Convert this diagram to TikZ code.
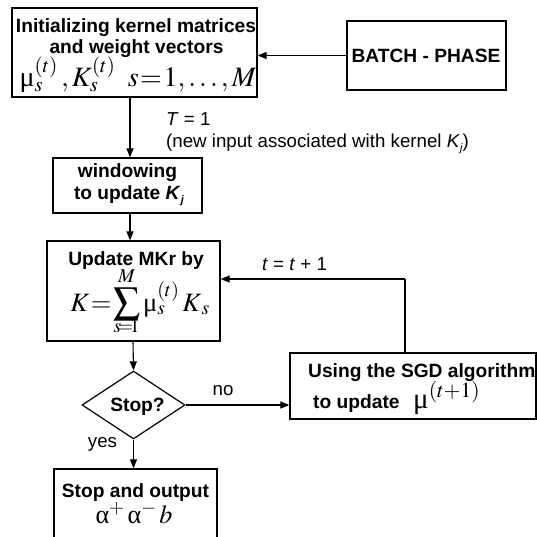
\documentclass[tikz,border=0pt]{standalone}
\usepackage{amsmath}
\usepackage{mathptmx}
\usepackage{fontspec}
\setmainfont{Liberation Sans}
\newfontfamily\serifup{Liberation Serif}
\usetikzlibrary{arrows.meta,shapes.geometric}

% upright Greek letters in the formulas
\newcommand\gmu{\text{\serifup μ}}
\newcommand\galpha{\text{\serifup α}}
% tight equals sign
\newcommand\teq{\mathrel{\mkern-3mu=\mkern-3mu}}

\tikzset{
  box/.style={draw, line width=1.2pt, inner sep=0pt, rectangle},
  arr/.style={line width=1.1pt, -{Triangle[length=9pt,width=7pt]}},
  conn/.style={line width=1.1pt},
  bold/.style={inner sep=0pt, anchor=base, font=\fontsize{19.2}{22}\selectfont\bfseries},
  plain/.style={inner sep=0pt, anchor=base, font=\fontsize{18.7}{22}\selectfont},
  formula/.style={inner sep=0pt, anchor=base, font=\fontsize{#1}{#1}\selectfont},
}

\begin{document}
\begin{tikzpicture}[x=1pt,y=-1pt]
\useasboundingbox (0,0) rectangle (537,537);
\clip (0,0) rectangle (537,537);

% boxes
\node[box, minimum width=245pt, minimum height=89pt] (init) at (134.5,52.5) {};
\node[box, minimum width=159pt, minimum height=69pt] (batch) at (426.5,55.5) {};
\node[box, minimum width=149pt, minimum height=55pt] (window) at (127.5,185.5) {};
\node[box, minimum width=173pt, minimum height=100pt] (mkr) at (133.5,291) {};
\node[draw, line width=1.2pt, diamond, inner sep=0pt, shape aspect=1.515,
      minimum width=103pt, minimum height=68pt] (stop) at (133.5,405) {};
\node[box, minimum width=246pt, minimum height=66pt] (sgd) at (413,386) {};
\node[box, minimum width=163pt, minimum height=80pt] (out) at (135.5,509) {};

% texts
\node[bold] (init1) at (136,33) {Initializing kernel matrices};
\node[bold] (init2) at (136.5,53.3) {and weight vectors};
\node[formula=28] (init3) at (138,87) {$\gmu_s^{(t)}\,, K_s^{(t)}\;\; s\teq 1,\ldots,M$};

\node[bold] (batchtxt) at (426,63) {BATCH - PHASE};

\node[plain, anchor=base west] (tlab) at (166,126) {\textit{T} = 1};
\node[plain, anchor=base west] (newlab) at (166,148) {(new input associated with kernel \textit{K}\raisebox{-0.35ex}{\fontsize{11}{11}\selectfont\textit{j}})};

\node[bold] (win1) at (127.5,178) {windowing};
\node[bold] (win2) at (129,200) {to update \textit{K}\raisebox{-0.35ex}{\fontsize{11}{11}\selectfont\textit{j}}};

\node[bold] (mkr1) at (136,265) {Update MKr by};
\node[formula=26.5] (mkr2) at (140,311) {$\displaystyle K\teq\sum_{\smash{\raisebox{4pt}{$\scriptstyle s\teq 1$}}}^{M}\gmu_s^{(t)}\, K_{\,s}$};

\node[plain, anchor=base west] (tinc) at (262,270) {\textit{t} = \textit{t} + 1};

\node[bold] (stoptxt) at (137.5,411) {Stop?};
\node[plain] (no) at (223,395) {no};
\node[plain] (yes) at (102.5,447) {yes};

\node[bold, anchor=base west] (sgd1) at (308,377) {Using the SGD algorithm};
\node[bold, anchor=base west] (sgd2) at (313,408) {to update};
\node[formula=29, anchor=base west] (sgd3) at (413,408) {$\gmu^{(t+1)}$};

\node[bold] (out1) at (135.5,497) {Stop and output};
\node[formula=26] (out2) at (134,523) {$\galpha^{+}\,\galpha^{-}\,b$};

% connectors
\coordinate (xa) at (130,0);
\coordinate (xb) at (133,0);
\coordinate (xs) at (405,0);
\coordinate (yf) at (0,279);

\draw[arr] (batch.west) -- (batch.west -| init.east);
\draw[arr] (init.south -| xa) -- (window.north -| xa);
\draw[arr] (window.south -| xa) -- (mkr.north -| xa);
\draw[arr] (mkr.south -| xb) -- (stop.north);
\draw[arr] (stop.south) -- (out.north -| stop.south);
\draw[arr] (stop.east) -- (stop.east -| sgd.west);
\draw[conn] (sgd.north -| xs) -- (xs |- yf);
\draw[arr] (xs |- yf) -- (mkr.east |- yf);
\end{tikzpicture}
\end{document}
